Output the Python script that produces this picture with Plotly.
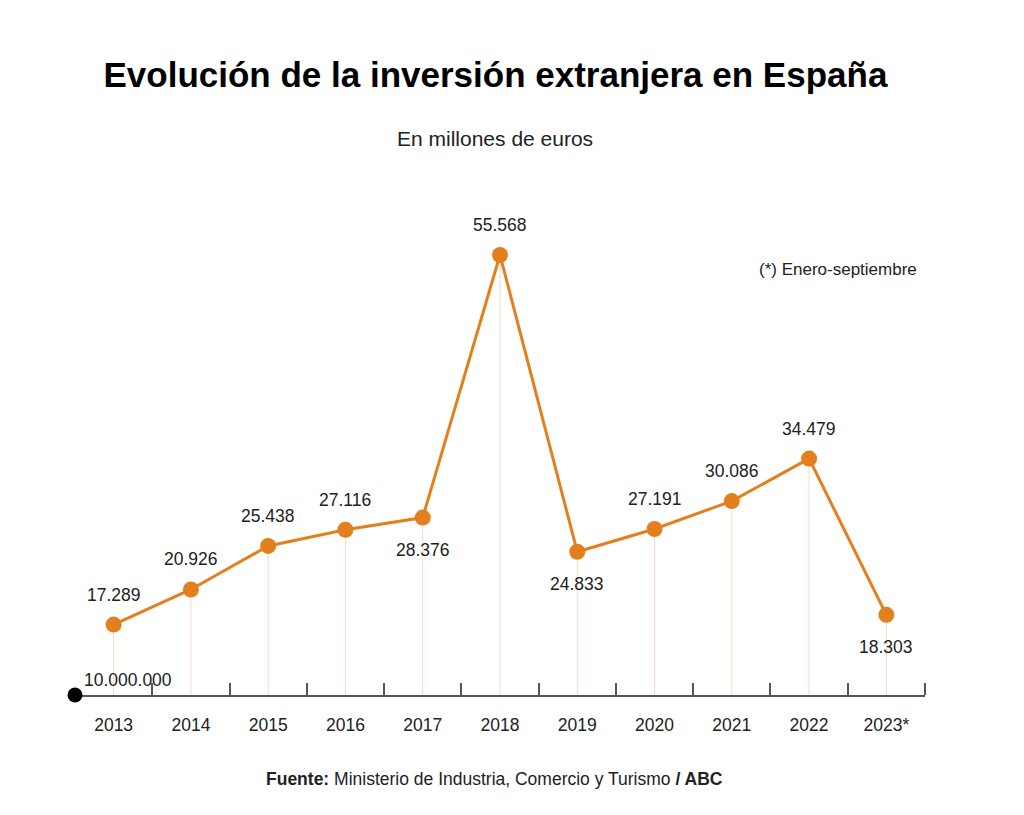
import plotly.graph_objects as go

# Data
years = ["2013", "2014", "2015", "2016", "2017", "2018", "2019", "2020", "2021", "2022", "2023*"]
inversion = [17.289, 20.926, 25.438, 27.116, 28.376, 55.568, 24.833, 27.191, 30.086, 34.479, 18.303]
labels = ["17.289", "20.926", "25.438", "27.116", "28.376", "55.568", "24.833", "27.191", "30.086", "34.479", "18.303"]
label_below = [False, False, False, False, True, False, True, False, False, False, True]
base = 10

orange = "#E47F1E"
font = "Liberation Sans, Arial, sans-serif"
x = list(range(len(years)))

fig = go.Figure()

# thin droplines from each point to the baseline
fig.add_trace(go.Scatter(
    x=x, y=inversion, mode="markers",
    marker=dict(size=0.1, color="rgba(0,0,0,0)"),
    error_y=dict(type="data", symmetric=False, array=[0] * len(x),
                 arrayminus=[v - base for v in inversion],
                 width=0, thickness=1, color="#F7D9C6"),
    hoverinfo="skip", showlegend=False,
))

fig.add_trace(go.Scatter(
    x=x, y=inversion, mode="lines+markers",
    line=dict(color=orange, width=3),
    marker=dict(size=16, color=orange),
    showlegend=False,
))

# black dot at the origin
fig.add_trace(go.Scatter(
    x=[-0.5], y=[base], mode="markers",
    marker=dict(size=15, color="black"),
    cliponaxis=False, showlegend=False, hoverinfo="skip",
))

for xi, v, t, below in zip(x, inversion, labels, label_below):
    fig.add_annotation(x=xi, y=v, text=t, showarrow=False,
                       yshift=-32 if below else 30,
                       font=dict(size=17.5, color="#222", family=font))

fig.add_annotation(x=-0.5, y=base, text="10.000.000", showarrow=False,
                   xanchor="left", yanchor="bottom", xshift=7, yshift=3,
                   font=dict(size=17.5, color="#222", family=font))

fig.add_annotation(xref="paper", yref="paper", x=0.9935, y=0.882, text="(*) Enero-septiembre",
                   showarrow=False, xanchor="right",
                   font=dict(size=17, color="#222", family=font))

fig.add_annotation(xref="paper", yref="paper", x=0.494, y=1.124, text="En millones de euros",
                   showarrow=False, yanchor="middle",
                   font=dict(size=21, color="#222", family=font))

fig.add_annotation(xref="paper", yref="paper", x=0.494, y=-0.17,
                   text="<b>Fuente:</b> Ministerio de Industria, Comercio y Turismo <b>/ ABC</b>",
                   showarrow=False, yanchor="middle",
                   font=dict(size=17.5, color="#222", family=font))

# page body has an 8px margin, so the margins are set 8px short
fig.update_layout(
    width=1024, height=815,
    margin=dict(l=67, r=107, t=192, b=128),
    paper_bgcolor="white", plot_bgcolor="white",
    title=dict(text="<b>Evolución de la inversión extranjera en España</b>",
               x=0.476, xanchor="center", y=0.918, yanchor="middle",
               font=dict(size=35, color="black", family=font)),
    font=dict(family=font, color="#222"),
)

fig.update_xaxes(
    range=[-0.5, 10.5], tickmode="array", tickvals=x, ticktext=years,
    ticks="", showgrid=False, zeroline=False,
    showline=True, linecolor="#555", linewidth=2, layer="below traces",
    tickfont=dict(size=17.5, color="#222"),
    minor=dict(tickmode="array", tickvals=[i + 0.5 for i in x], ticks="inside",
               ticklen=12, tickwidth=2, tickcolor="#555", showgrid=False),
    ticklabelstandoff=13,
)
fig.update_yaxes(range=[base, 61.26], visible=False, showgrid=False)

fig.write_html("out.html")
